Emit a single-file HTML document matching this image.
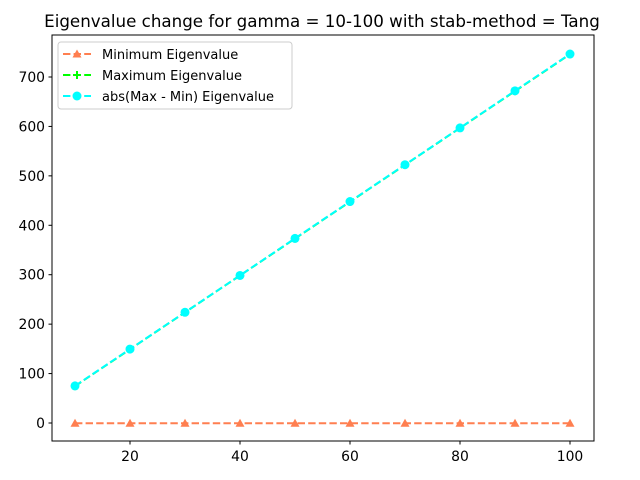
<!DOCTYPE html>
<html><head><meta charset="utf-8"><style>
body{margin:0;background:#fff;}
svg{display:block;font-family:"DejaVu Sans","Liberation Sans",sans-serif;}
</style></head><body>
<svg id="chart" width="640" height="480">
<rect x="0" y="0" width="640" height="480" fill="#fff"/>
<text x="322" y="27" font-size="16.7" text-anchor="middle">Eigenvalue change for gamma = 10-100 with stab-method = Tang</text>
<g id="plot"></g>
<rect x="52" y="35" width="542" height="406" fill="none" stroke="#000" stroke-width="1"/>
<g>
<rect x="58" y="42" width="234" height="67" rx="3" fill="#fff" fill-opacity="0.8" stroke="#ccc"/>
<line x1="63" y1="54" x2="91" y2="54" stroke="#ff7f50" stroke-width="2" stroke-dasharray="7.4,3.2"/>
<path d="M77,49.5 L81.5,57.5 L72.5,57.5Z" fill="#ff7f50"/>
<text x="102" y="59" font-size="13">Minimum Eigenvalue</text>
<line x1="63" y1="75" x2="91" y2="75" stroke="#00ff00" stroke-width="2" stroke-dasharray="7.4,3.2"/>
<path d="M77,71 V79 M73,75 H81" stroke="#00ff00" stroke-width="2"/>
<text x="102" y="80" font-size="13">Maximum Eigenvalue</text>
<line x1="63" y1="96" x2="91" y2="96" stroke="#00ffff" stroke-width="2" stroke-dasharray="7.4,3.2"/>
<circle cx="77" cy="96" r="4.5" fill="#00ffff"/>
<text x="102" y="101" font-size="13">abs(Max - Min) Eigenvalue</text>
</g>
</svg>
<script>
const gammas=[10,20,30,40,50,60,70,80,90,100];
const minVals=[-0.5,-0.5,-0.5,-0.5,-0.5,-0.5,-0.5,-0.5,-0.5,-0.5];
const maxVals=[74.6,149.2,223.8,298.4,373,447.6,522.2,596.8,671.4,746];
const absVals=[75,149.5,224,298.5,373.5,448,522.5,597,672,746.5];
const xTicks=[20,40,60,80,100];
const yTicks=[0,100,200,300,400,500,600,700];
const NS="http://www.w3.org/2000/svg";
const g=document.getElementById('plot');
function X(v){return 75+(v-10)*5.5;}
function Y(v){return 423-v*0.49429;}
function mk(t,a){const e=document.createElementNS(NS,t);for(const k in a)e.setAttribute(k,a[k]);g.appendChild(e);return e;}
xTicks.forEach(v=>{
const l=mk('line',{x1:X(v),x2:X(v),y1:441,y2:444.5,stroke:'#000'});


const t=mk('text',{x:X(v),y:461,'font-size':13.9,'text-anchor':'middle'});t.textContent=v;


});
yTicks.forEach(v=>{
const l=mk('line',{x1:48.5,x2:52,y1:Y(v),y2:Y(v),stroke:'#000'});


const t=mk('text',{x:45,y:Y(v)+5,'font-size':13.9,'text-anchor':'end'});t.textContent=v;


});
function series(vals,color,name,marker){
const p=mk('polyline',{points:gammas.map((x,i)=>X(x)+','+Y(vals[i])).join(' '),fill:'none',stroke:color,'stroke-width':2,'stroke-dasharray':'7.4,3.2'});


gammas.forEach((x,i)=>{
const cx=X(x),cy=Y(vals[i]);let m;
if(marker==='tri')m=mk('path',{d:`M${cx},${cy-4.5}L${cx+4.5},${cy+3.5}L${cx-4.5},${cy+3.5}Z`,fill:color});
else if(marker==='plus')m=mk('path',{d:`M${cx},${cy-4}V${cy+4}M${cx-4},${cy}H${cx+4}`,stroke:color,'stroke-width':2});
else m=mk('circle',{cx:cx,cy:cy,r:4.5,fill:color});


});
}
series(minVals,'#ff7f50','min-eigenvalue','tri');
series(maxVals,'#00ff00','max-eigenvalue','plus');
series(absVals,'#00ffff','abs-diff-eigenvalue','circle');
</script>
</body></html>
